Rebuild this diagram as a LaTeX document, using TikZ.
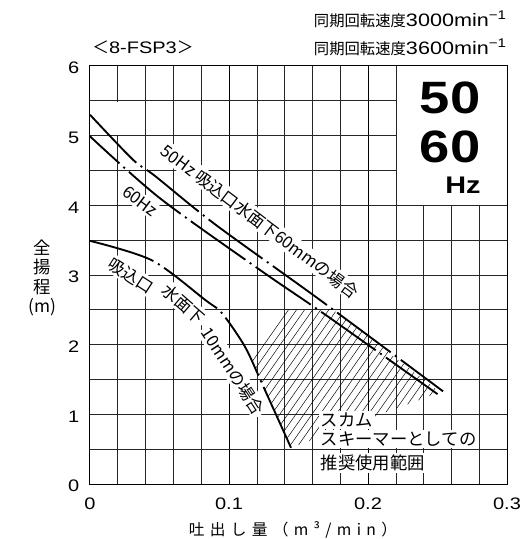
\documentclass[tikz,border=0pt]{standalone}
\usepackage{fontspec}
\setmainfont[FakeStretch=1.2]{Liberation Sans}
\newfontfamily\jp{Noto Sans CJK JP}
\newfontfamily\jpsp[LetterSpace=34]{Noto Sans CJK JP}
\usetikzlibrary{positioning}

\begin{document}
\begin{tikzpicture}[x=1042.5pt,y=52.25pt,
    gridline/.style={black!85,line width=0.5pt},
    boldgrid/.style={black,line width=0.75pt},
    pumpcurve/.style={line width=1.4pt,dash pattern=on 50pt off 4pt on 1.5pt off 4pt},
    hatchline/.style={line width=0.35pt},
    onlabel/.style={fill=white,inner sep=1.5pt,font=\jp\fontsize{12.5}{13}\selectfont},
    scumlabel/.style={fill=white,inner sep=1.5pt,anchor=west,font=\jp\fontsize{13}{14}\selectfont},
    ticklabel/.style={inner sep=0pt,font=\fontsize{12.5}{13}\selectfont},
    speedlabel/.style={inner sep=0pt,anchor=east,font=\fontsize{13.5}{14}\selectfont}]
  \useasboundingbox (-0.06475,-0.7894) rectangle (0.31151,6.947);
  % grid
  \foreach \i in {1,...,14}{
    \pgfmathsetmacro\q{0.02*\i}
    \ifnum\i>11
      \draw[gridline] (\q,0) -- (\q,4);
    \else
      \draw[gridline] (\q,0) -- (\q,6);
    \fi
  }
  \draw[boldgrid] (0.1,0) -- (0.1,6);
  \draw[boldgrid] (0.2,0) -- (0.2,6);
  \foreach \j in {1,...,11}{
    \pgfmathsetmacro\h{0.5*\j}
    \ifnum\j>8
      \draw[gridline] (0,\h) -- (0.22,\h);
    \else
      \draw[gridline] (0,\h) -- (0.3,\h);
    \fi
  }
  \draw[boldgrid] (0,0) rectangle (0.3,6);
  \fill[white] (0.0012,5.012) rectangle (0.0392,5.488);
  % axes
  \foreach \j in {0,...,6}
    \node[ticklabel,anchor=east] (y\j) at (-0.0075,\j-0.03) {\j};
  \node[ticklabel,anchor=north] (x0) at (0,-0.19) {0};
  \node[ticklabel,anchor=north] (x1) at (0.1,-0.19) {0.1};
  \node[ticklabel,anchor=north] (x2) at (0.2,-0.19) {0.2};
  \node[ticklabel,anchor=north] (x3) at (0.3,-0.19) {0.3};
  \node[inner sep=0pt,font=\jpsp\fontsize{11.75}{12}\selectfont] (xlab) at (0.146,-0.66) {吐出し量（m³/min）};
  \node[inner sep=0pt,align=center,font=\jp\fontsize{13}{14.5}\selectfont] (ylab) at (-0.0345,2.96) {全\\揚\\程\\(m)};
  % headings
  \node[speedlabel] (sp50) at (0.3,6.667) {{\jp\fontsize{11.5}{14}\selectfont 同期回転速度}3000min\textsuperscript{−1}};
  \node[speedlabel] (sp60) at (0.3,6.265) {{\jp\fontsize{11.5}{14}\selectfont 同期回転速度}3600min\textsuperscript{−1}};
  \node[inner sep=0pt,anchor=west,font=\fontsize{12.5}{13}\selectfont] (model) at (0.0015,6.265) {{\jp ＜}8-FSP3{\jp ＞}};
  \node[inner sep=0pt,font=\bfseries\fontsize{34}{34}\selectfont] (f50) at (0.259,5.54) {50};
  \node[inner sep=0pt,font=\bfseries\fontsize{34}{34}\selectfont] (f60) at (0.259,4.84) {60};
  \node[inner sep=0pt,font=\bfseries\fontsize{18}{18}\selectfont] (hz) at (0.2683,4.29) {Hz};
  % hatched range
  \begin{scope}
    \clip (0.0955,2.5) -- (0.1115,1.97) -- (0.124,1.43) -- (0.1446,0.52)
      -- (0.252,1.32) -- (0.1748,2.5) -- cycle;
    \foreach \k in {0,...,45}
      \draw[hatchline] ({0.055+\k*0.0058},0) -- ++(0.0913,2.6);
  \end{scope}
  % labels
  \node[onlabel,rotate=-37] (lab50) at (0.1222,3.77) {50Hz 吸込口水面下60mmの場合};
  \node[onlabel,rotate=-37] (lab60) at (0.036,4.06) {60Hz};
  \node[onlabel,rotate=-33] (labsuc) at (0.0295,2.99) {吸込口};
  \node[onlabel,rotate=-41] (labsurf) at (0.0675,2.58) {水面下};
  \node[onlabel,rotate=-57] (lab10) at (0.1028,1.62) {10mmの場合};
  \node[scumlabel] (scum1) at (0.1645,0.919) {スカム};
  \node[scumlabel] (scum2) at (0.1645,0.646) {スキーマーとしての};
  \node[scumlabel] (scum3) at (0.1645,0.301) {推奨使用範囲};
  % curves
  \draw[pumpcurve] plot[smooth] coordinates {(0,5.30) (0.0309,4.655) (0.0468,4.421) (0.0906,3.718) (0.1655,2.641) (0.254,1.33)};
  \draw[pumpcurve,dash phase=20pt] plot[smooth] coordinates {(0,4.99) (0.0501,4.105) (0.1223,3.072) (0.17,2.42) (0.250,1.29)};
  \draw[pumpcurve] plot[smooth] coordinates {(0,3.49) (0.0446,3.21) (0.083,2.64) (0.095,2.45) (0.1115,1.97) (0.124,1.43) (0.1446,0.52)};
\end{tikzpicture}
\end{document}
